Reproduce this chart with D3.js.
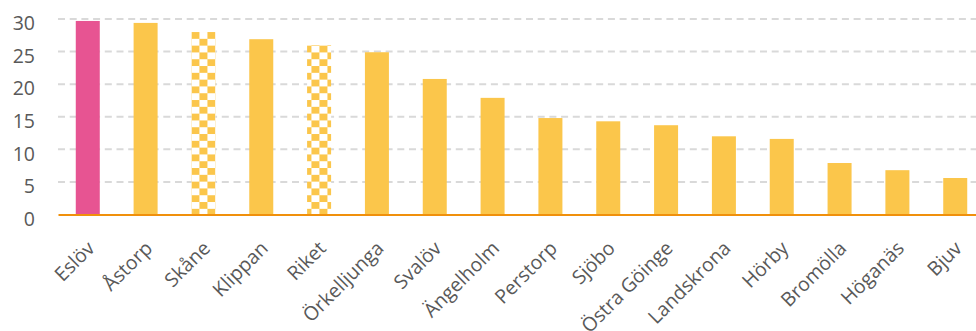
<!DOCTYPE html>
<html><head><meta charset="utf-8">
<script src="https://cdn.jsdelivr.net/npm/d3@7"></script>
<style>body{margin:0;background:#fff}svg{display:block}</style>
</head><body>
<script>
const categories = ["Eslöv","Åstorp","Skåne","Klippan","Riket","Örkelljunga","Svalöv","Ängelholm","Perstorp","Sjöbo","Östra Göinge","Landskrona","Hörby","Bromölla","Höganäs","Bjuv"];
const values = [29.7,29.4,28.0,26.9,26.0,24.9,20.8,17.9,14.8,14.3,13.7,12.0,11.6,7.9,6.8,5.6];
const kinds = ["highlight","normal","pattern","normal","pattern","normal","normal","normal","normal","normal","normal","normal","normal","normal","normal","normal"];
const yTicks = [0,5,10,15,20,25,30];

const W = 976, H = 331;
const svg = d3.select("body").append("svg").attr("width", W).attr("height", H);
const x = d3.scaleBand().domain(categories).range([59, 984]).paddingInner(0.585).paddingOuter(0.29);
const y = d3.scaleLinear().domain([0, 30]).range([214.5, 19]);

const yellow = "#FBC64B", pink = "#E75492";
const defs = svg.append("defs");
const cw = 8, ch = 6.8;
const pat = defs.append("pattern").attr("id","checker").attr("patternUnits","userSpaceOnUse")
  .attr("x", x("Skåne")).attr("y", y(28.0)).attr("width", cw*2).attr("height", ch*2);
pat.append("rect").attr("width", cw*2).attr("height", ch*2).attr("fill","#fff");
pat.append("rect").attr("x",0).attr("y",0).attr("width",cw).attr("height",ch).attr("fill",yellow);
pat.append("rect").attr("x",cw).attr("y",ch).attr("width",cw).attr("height",ch).attr("fill",yellow);

// gridlines
svg.append("g").selectAll("line").data(yTicks.filter(d=>d>0)).join("line")
  .attr("x1", 58).attr("x2", W).attr("y1", d=>y(d)).attr("y2", d=>y(d))
  .attr("stroke","#D9D9D9").attr("stroke-width",2).attr("stroke-dasharray","7,4.7");

// y axis labels
const yAxis = d3.axisLeft(y).tickValues(yTicks).tickSize(0).tickPadding(0);
const ya = svg.append("g").attr("transform","translate(35,4.5)").call(yAxis);
ya.select(".domain").remove();
ya.selectAll("text").attr("font-family","'Open Sans', sans-serif").attr("font-size",19.5).attr("fill","#595959");

// bars
svg.append("g").selectAll("rect").data(categories).join("rect")
  .attr("x", d=>x(d)).attr("width", x.bandwidth())
  .attr("y", (d,i)=>y(values[i])).attr("height", (d,i)=>y(0)-y(values[i]))
  .attr("fill", (d,i)=> kinds[i]==="highlight" ? pink : kinds[i]==="pattern" ? "url(#checker)" : yellow);

// x axis line
svg.append("line").attr("x1",58.5).attr("x2",W).attr("y1",y(0)+0.5).attr("y2",y(0)+0.5)
  .attr("stroke","#F0900C").attr("stroke-width",2.2);

// x labels
const xAxis = d3.axisBottom(x).tickSize(0).tickPadding(0);
const xa = svg.append("g").attr("transform", `translate(0,${y(0)})`).call(xAxis);
xa.select(".domain").remove();
xa.selectAll("text").attr("font-family","'Open Sans', sans-serif").attr("font-size",19.5).attr("fill","#595959")
  .attr("text-anchor","end").attr("dy",null).attr("y",null)
  .attr("transform","translate(8,35) rotate(-45)");
</script>
</body></html>
